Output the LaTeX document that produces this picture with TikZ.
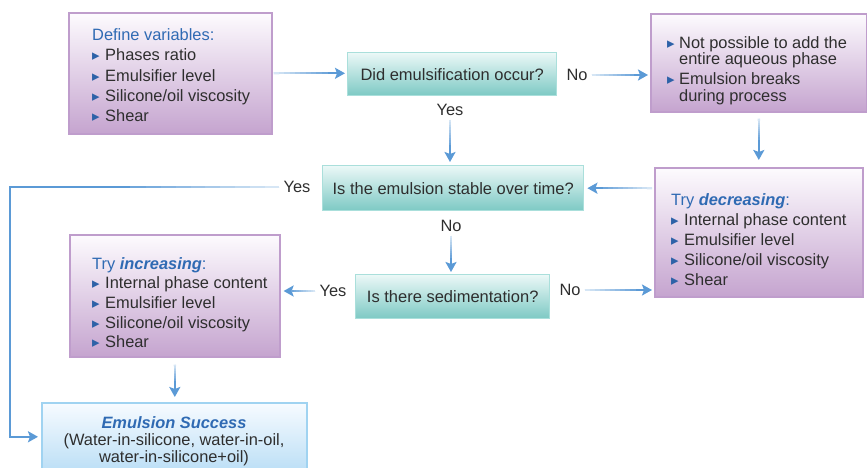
\documentclass[tikz,border=0pt]{standalone}
\usepackage{fontspec}
\setmainfont{Liberation Sans}
\newfontfamily\symfont{DejaVu Sans}
\usetikzlibrary{arrows.meta,calc}
\definecolor{pborder}{HTML}{BF9DCC}
\definecolor{ptop}{HTML}{FDFBFE}
\definecolor{pbot}{HTML}{C5A4CF}
\definecolor{tborder}{HTML}{AADFDB}
\definecolor{ttop}{HTML}{EBF8F7}
\definecolor{tbot}{HTML}{7DC9C4}
\definecolor{sborder}{HTML}{A0D3F1}
\definecolor{stop}{HTML}{F7FBFF}
\definecolor{sbot}{HTML}{BCDFF6}
\definecolor{arr}{HTML}{5B9AD6}
\definecolor{ttl}{HTML}{2F6AB3}
\definecolor{bulc}{HTML}{2D62A8}
\definecolor{txtc}{HTML}{2E2E2E}
\newcommand\bul[1][13pt]{\makebox[#1][l]{\color{bulc}\symfont\fontsize{15}{15}\selectfont ▸}}
% gradient overlay: light at #2, full colour towards #3, over fraction #1
\newcommand\gseg[3][0.75]{%
  \foreach \i [evaluate=\i as \s using \i*#1/10, evaluate=\i as \e using (\i+1)*#1/10+0.005,
               evaluate=\i as \c using int(25+70*\i/10)] in {0,...,9}
    {\draw[draw=arr!\c, line width=2.4pt] ($(#2)!\s!(#3)$) -- ($(#2)!\e!(#3)$);}}
\newcommand\conn[3][0.75]{\draw[arw] (#2) -- (#3); \gseg[#1]{#2}{#3}}
\begin{document}
\begin{tikzpicture}[x=1pt,y=-1pt,
  pbox/.style={draw=pborder, line width=1.6pt, top color=ptop, bottom color=pbot, inner sep=0pt, anchor=north west},
  tbox/.style={draw=tborder, line width=1.4pt, top color=ttop, bottom color=tbot, inner sep=0pt, anchor=north west, text=txtc, font=\fontsize{16.5}{20}\selectfont},
  sbox/.style={draw=sborder, line width=1.6pt, top color=stop, bottom color=sbot, inner sep=0pt, anchor=north west},
  txt/.style={text=txtc, font=\fontsize{16.4}{20.25}\selectfont, inner sep=0pt, align=left, anchor=north west},
  lbl/.style={text=txtc, font=\fontsize{16.4}{20}\selectfont, inner sep=4pt},
  arw/.style={draw=arr, line width=2.4pt, -{Stealth[length=10pt,width=11pt,inset=2pt]}}]
\useasboundingbox (0,0) rectangle (867,468);
% boxes
\node[pbox, minimum width=203pt, minimum height=121pt] (def) at (68,12) {};
\node[tbox, minimum width=209pt, minimum height=43pt] (did) at (347,52) {Did emulsification occur?};
\node[pbox, minimum width=216pt, minimum height=98pt] (tr) at (650,13) {};
\node[tbox, minimum width=261pt, minimum height=45pt] (stab) at (322,165) {Is the emulsion stable over time?};
\node[pbox, minimum width=208pt, minimum height=129pt] (dec) at (654,167) {};
\node[pbox, minimum width=210pt, minimum height=122pt] (inc) at (69,234) {};
\node[tbox, minimum width=194pt, minimum height=44pt] (sed) at (355,274) {Is there sedimentation?};
\node[sbox, minimum width=265pt, minimum height=68pt] (succ) at (41,402) {};
% box texts
\node[txt] (deft) at (92,28.5) {{\color{ttl}Define variables:}\\
  \bul Phases ratio\\ \bul Emulsifier level\\ \bul Silicone/oil viscosity\\ \bul Shear};
\node[txt, font=\fontsize{16.4}{16.5}\selectfont] (trt) at (667,36) {\bul[12pt]Not possible to add the\\
  \hspace*{12pt}entire aqueous phase\\[3.5pt] \bul[12pt]Emulsion breaks\\ \hspace*{12pt}during process};
\node[txt, font=\fontsize{16.4}{20}\selectfont] (dect) at (671,193) {{\color{ttl}Try \textbf{\textit{decreasing}}:}\\
  \bul Internal phase content\\ \bul Emulsifier level\\ \bul Silicone/oil viscosity\\ \bul Shear};
\node[txt, font=\fontsize{16.4}{19.7}\selectfont] (inct) at (92,257) {{\color{ttl}Try \textbf{\textit{increasing}}:}\\
  \bul Internal phase content\\ \bul Emulsifier level\\ \bul Silicone/oil viscosity\\ \bul Shear};
\node[txt, anchor=center, align=center, font=\fontsize{16.4}{17}\selectfont] (succt) at (174,441)
  {{\color{ttl}\bfseries\itshape Emulsion Success}\\(Water-in-silicone, water-in-oil,\\water-in-silicone+oil)};
% labels
\node[lbl] (no1) at (577,75) {No};
\node[lbl] (yes1) at (450,110) {Yes};
\node[lbl] (yes2) at (297,187) {Yes};
\node[lbl] (no3) at (451,226) {No};
\node[lbl] (yes4) at (333,291) {Yes};
\node[lbl] (no5) at (570,290) {No};
% connector end points
\coordinate (c1) at (10,187);
\coordinate (a1) at ($(def.east)+(1,0)$);        \coordinate (b1) at ($(def.east -| did.west)+(-2,0)$);
\coordinate (a2) at (no1.east);                  \coordinate (b2) at ($(no1.east -| tr.west)+(-2,0)$);
\coordinate (a3) at (yes1.south);                \coordinate (b3) at ($(yes1.south |- stab.north)+(0,-3)$);
\coordinate (a4) at ($(tr.south)+(0,6)$);        \coordinate (b4) at ($(tr.south |- dec.north)+(0,-7)$);
\coordinate (a5) at ($(stab.east -| dec.west)+(-2,0)$); \coordinate (b5) at ($(stab.east)+(3,0)$);
\coordinate (a6) at (no3.south);                 \coordinate (b6) at ($(no3.south |- sed.north)+(0,-2)$);
\coordinate (a7) at (yes4.west);                 \coordinate (b7) at ($(yes4.west -| inc.east)+(3,0)$);
\coordinate (a8) at (no5.east);                  \coordinate (b8) at ($(no5.east -| dec.west)+(-2,0)$);
\coordinate (a9) at ($(inc.south)+(0,7)$);       \coordinate (b9) at ($(inc.south |- succ.north)+(0,-5)$);
\coordinate (b10) at ($(succ.west)+(-3,0)$);
% connectors
\conn{a1}{b1}
\conn{a2}{b2}
\conn[0.6]{a3}{b3}
\conn[0.5]{a4}{b4}
\conn{a5}{b5}
\conn[0.6]{a6}{b6}
\conn{a7}{b7}
\conn{a8}{b8}
\conn[0.5]{a9}{b9}
\draw[arw] (yes2.west) -- (c1) |- (b10);
\gseg[0.55]{yes2.west}{c1}
\end{tikzpicture}
\end{document}
